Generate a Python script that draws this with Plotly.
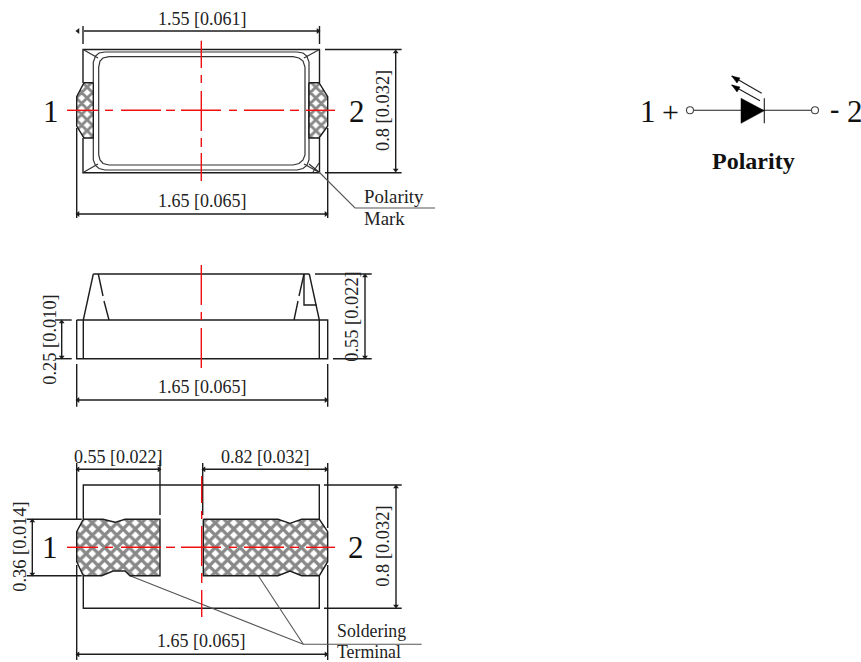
import plotly.graph_objects as go

INK = "#1c1c1c"
RED = "#f01010"

# ---- outlines, each item one polyline of (x, y) drawing units
top_view = [
    [(83, 83), (83, 49.5), (319.5, 49.5), (319.5, 83)],
    [(83, 138), (83, 172.7), (319.5, 172.7), (319.5, 138)],
    [(76.7, 128), (76.7, 218)], [(327.7, 128), (327.7, 218)],
    [(83, 26), (83, 44)], [(319.5, 26), (319.5, 44)],
    [(84, 31), (318, 31)], [(78, 214), (326, 214)],
    [(325, 49.5), (401.6, 49.5)], [(325, 172.7), (401.6, 172.7)],
    [(395.7, 51), (395.7, 171)],
]
top_inner = [
    [(105, 52), (99, 53), (95.5, 56), (93.3, 62), (93.3, 160), (95.5, 165.5), (99, 168.5), (105, 170),
     (297, 170), (303, 168.5), (306.8, 165.5), (309, 160), (309, 62), (306.8, 56), (303, 53), (297, 52), (105, 52)],
    [(109, 56.7), (103, 58), (100, 61), (98.7, 67), (98.7, 155), (100, 160), (103, 163.5), (109, 165),
     (293, 165), (299, 163.5), (303, 160), (305, 155), (305, 67), (303, 61), (299, 58), (293, 56.7), (109, 56.7)],
    [(84, 50), (98, 58)], [(318.5, 50), (304, 58)], [(84, 172), (98, 164)], [(318.5, 172), (304, 164)],
    [(93.3, 83), (93.3, 138)], [(309, 83), (309, 138)],
    [(313, 172), (319, 163)], [(309, 164), (319, 172)],
]
side_view = [
    [(93.3, 274), (309.3, 274)],
    [(76.7, 320), (327.7, 320), (327.7, 358.7), (76.7, 358.7), (76.7, 320)],
    [(83.3, 320), (83.3, 358.7)], [(319.3, 320), (319.3, 358.7)],
    [(93.3, 274), (83.3, 320)], [(309.3, 274), (319.3, 320)],
    [(304, 274), (304, 305), (316.7, 305)],
    [(98.3, 274), (103, 296)], [(104, 301), (109, 320)],
    [(304, 274), (299, 296)], [(298, 301), (294, 320)],
    [(315, 274), (371.7, 274)], [(333, 358.7), (371.7, 358.7)],
    [(365, 275), (365, 358)],
    [(55, 320), (71.7, 320)], [(55, 358.7), (71.7, 358.7)], [(61.7, 321), (61.7, 358)],
    [(76.7, 364), (76.7, 406.7)], [(327.7, 364), (327.7, 406.7)], [(78, 400), (326, 400)],
]
bottom_view = [
    [(83.3, 519), (83.3, 485), (319.3, 485), (319.3, 519)],
    [(83.3, 576), (83.3, 608.3), (319.3, 608.3), (319.3, 576)],
    [(76.7, 463), (76.7, 520)], [(76.7, 565), (76.7, 660)],
    [(160, 460), (160, 515)], [(202.7, 463), (202.7, 515)],
    [(327.7, 463), (327.7, 528)], [(327.7, 565), (327.7, 660)],
    [(78, 469.3), (159, 469.3)], [(204, 469.3), (326, 469.3)],
    [(324, 485), (401.7, 485)], [(324, 608.3), (401.7, 608.3)], [(396, 486), (396, 607)],
    [(26.7, 519.3), (81.7, 519.3)], [(26.7, 575.7), (81.7, 575.7)], [(32.3, 520), (32.3, 575)],
    [(78, 654.3), (326, 654.3)],
]
leaders = [
    [(319, 172), (355, 208), (435, 208)],
    [(130, 575.7), (303.3, 644.3), (421.7, 644.3)],
    [(258.3, 575.7), (303.3, 644.3)],
]
# red centre lines: pairs of dash ends
red_h_dashes = [(67, 98), (105, 113), (121, 161), (166, 175), (181, 221), (229, 237), (244, 284), (290, 299), (306, 335)]
red_h_levels = [110.3, 547.3]
red_v_dashes = {
    201.3: [(40.7, 68), (75, 83), (91, 131), (138, 147), (153, 181), (265, 305), (312, 320), (328, 368)],
    201.7: [(476, 503), (511, 519), (526, 566), (573, 583), (590, 617)],
}
symbol_lines = [
    [(694, 110.3), (811, 110.3)],
    [(764.3, 98.3), (764.3, 123.3)],
    [(731.7, 76), (761.7, 93.3)], [(731.7, 85), (760, 100.7)],
]

# ---- filled regions
terminals_top = [
    [(93.3, 82.7), (84, 82.7), (76.7, 96.7), (76.7, 126), (84, 138), (93.3, 138), (93.3, 82.7)],
    [(309, 82.7), (319, 82.7), (327.7, 96.7), (327.7, 126), (319, 138), (309, 138), (309, 82.7)],
]
terminals_bottom = [
    [(83.3, 519.3), (103, 519.3), (115, 522.3), (125, 519.3), (160, 519.3), (160, 575.7), (130, 575.7),
     (125, 571), (113, 571), (101.7, 575.7), (83.3, 575.7), (76.7, 561.7), (76.7, 531.7), (83.3, 519.3)],
    [(203.3, 519.3), (278, 519.3), (290, 523.3), (301.7, 519.3), (319.3, 519.3), (327.7, 531.7),
     (327.7, 561.7), (319.3, 575.7), (301.7, 575.7), (290, 571), (278, 575.7), (203.3, 575.7), (203.3, 519.3)],
]
diode = [(741, 98.3), (741, 123.3), (764.3, 110.7), (741, 98.3)]
arrow_heads = [
    [(731.7, 76), (740, 78), (737, 83), (731.7, 76)],
    [(731.7, 85), (740, 87), (737, 92), (731.7, 85)],
]

# ---- markers
arrow_left = [(78, 31), (78, 214), (78, 400), (78, 469.3), (204, 469.3), (78, 654.3)]
arrow_right = [(318, 31), (326, 214), (326, 400), (159, 469.3), (326, 469.3), (326, 654.3)]
arrow_up = [(395.7, 52), (365, 276), (61.7, 322), (396, 487), (32.3, 521)]
arrow_down = [(395.7, 170), (365, 357), (61.7, 357), (396, 606), (32.3, 574)]
terminal_dots = [(690, 110.3), (815, 110.3)]

# ---- texts
dim_labels = ["1.55 [0.061]", "1.65 [0.065]", "1.65 [0.065]", "0.55 [0.022]", "0.82 [0.032]", "1.65 [0.065]"]
dim_pos = [(202, 19), (202, 200.7), (202, 387), (118, 456.7), (265.7, 456.7), (201.7, 640.7)]
vert_labels = ["0.8 [0.032]", "0.25 [0.010]", "0.55 [0.022]", "0.36 [0.014]", "0.8 [0.032]"]
vert_pos = [(383, 111), (50, 339.7), (351.7, 317), (20, 546.7), (383, 546.7)]
pin_labels = ["1", "2", "1", "2", "1", "2"]
pin_pos = [(50.7, 111), (356.7, 111), (50, 547), (356, 547), (648, 111), (855, 111)]
note_labels = ["Polarity", "Mark", "Soldering", "Terminal"]
note_pos = [(363, 196), (363, 218), (335.5, 631), (335.7, 651.5)]
note_sizes = [18.8, 18.8, 17.8, 17.8]

SERIF = "Liberation Serif, Times New Roman, serif"
fig = go.Figure()


def join(polys):
    xs, ys = [], []
    for p in polys:
        xs += [q[0] for q in p] + [None]
        ys += [q[1] for q in p] + [None]
    return xs, ys


def add_lines(polys, color, width):
    xs, ys = join(polys)
    fig.add_trace(go.Scatter(x=xs, y=ys, mode="lines", line=dict(color=color, width=width), hoverinfo="skip"))


def add_hatch(polys, size):
    for p in polys:
        fig.add_trace(go.Scatter(
            x=[q[0] for q in p], y=[q[1] for q in p], mode="lines", fill="toself",
            fillcolor="white", line=dict(color=INK, width=1.4),
            fillpattern=dict(shape="x", size=size, solidity=0.6, fgcolor="#111111", bgcolor="white"),
            hoverinfo="skip"))


def add_marks(pts, symbol, size=5):
    fig.add_trace(go.Scatter(x=[q[0] for q in pts], y=[q[1] for q in pts], mode="markers",
                             marker=dict(symbol=symbol, size=size, color=INK, line=dict(width=0)), hoverinfo="skip"))


add_lines(top_view + side_view + bottom_view, INK, 1.4)
add_lines(top_inner, "#333333", 1.2)
add_lines(leaders, "#555555", 1.1)
add_hatch(terminals_top, 7.7)
add_hatch(terminals_bottom, 8.7)
red_lines = [[(a, y), (b, y)] for y in red_h_levels for a, b in red_h_dashes]
red_lines += [[(x, a), (x, b)] for x, dashes in red_v_dashes.items() for a, b in dashes]
add_lines(red_lines, RED, 1.4)
add_lines(symbol_lines, INK, 1.1)
for solid in [diode] + arrow_heads:
    fig.add_trace(go.Scatter(x=[q[0] for q in solid], y=[q[1] for q in solid], mode="lines", fill="toself",
                             fillcolor="black", line=dict(color="black", width=0.5), hoverinfo="skip"))
add_marks(arrow_left, "triangle-left")
add_marks(arrow_right, "triangle-right")
add_marks(arrow_up, "triangle-up")
add_marks(arrow_down, "triangle-down")
fig.add_trace(go.Scatter(x=[q[0] for q in terminal_dots], y=[q[1] for q in terminal_dots], mode="markers",
                         marker=dict(symbol="circle", size=7, color="white", line=dict(color="#444444", width=1.1)),
                         hoverinfo="skip"))


def label(text, pos, size, angle=0, anchor="center", bold=False, color="#222222"):
    fig.add_annotation(x=pos[0], y=pos[1], text=f"<b>{text}</b>" if bold else text, showarrow=False,
                       xanchor=anchor, yanchor="middle", textangle=angle, borderpad=0,
                       font=dict(family=SERIF, size=size, color=color))


for t, p in zip(dim_labels, dim_pos):
    label(t, p, 18)
for t, p in zip(vert_labels, vert_pos):
    label(t, p, 18.4, angle=-90)
for t, p in zip(pin_labels, pin_pos):
    label(t, p, 31, color="#111111")
for t, p, s in zip(note_labels, note_pos, note_sizes):
    label(t, p, s, anchor="left")
label("+", (670.7, 111), 30, color="#111111")
label("-", (834, 108), 28, bold=True, color="#111111")
label("Polarity", (753.3, 160.7), 24, bold=True, color="#111111")

fig.update_layout(
    width=861, height=662, margin=dict(l=0, r=0, t=0, b=0), showlegend=False,
    paper_bgcolor="white", plot_bgcolor="white",
    xaxis=dict(range=[0, 861], visible=False, fixedrange=True),
    yaxis=dict(range=[662, 0], visible=False, fixedrange=True),
)
fig.write_html("out.html", config=dict(displayModeBar=False),
               post_script="document.body.style.margin='0';document.documentElement.style.overflow='hidden';")
